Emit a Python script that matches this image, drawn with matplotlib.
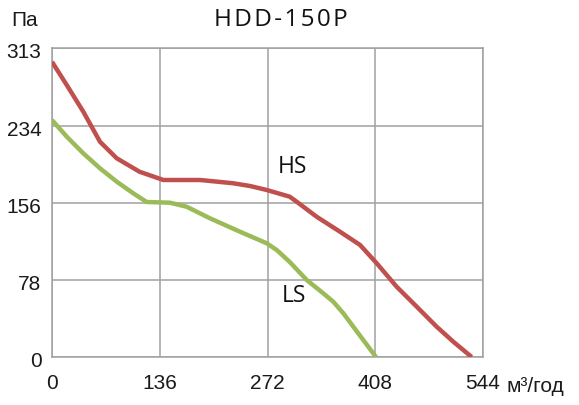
import matplotlib
matplotlib.use("Agg")
from matplotlib import pyplot as plt
from matplotlib import transforms

# Данные кривых (расход, м3/год -> давление, Па)
hs_flow = [0, 18.6, 39.5, 60.6, 81.7, 110.4, 140.5, 187, 228.5, 250, 270.9,
           300, 308.8, 334, 363.5, 388.8, 409.9, 435, 460.3, 485.5, 506.5, 529.7]
hs_pres = [299, 275.5, 248.5, 218, 201.3, 187.7, 179.3, 179.3, 176, 173.2, 169.2,
           162.4, 157.3, 142.1, 126.9, 113.5, 94.9, 71.2, 51, 30.7, 15.5, 0]

ls_flow = [0, 18.6, 39.5, 60.6, 81.7, 102.6, 119.5, 148.9, 170, 199.4, 237.3,
           271, 283.6, 300.4, 321.5, 342.4, 355, 367.7, 380.3, 392.9, 408.9]
ls_pres = [240, 223.2, 206.3, 191.1, 177.6, 165.8, 157, 156.3, 152.2, 140.5, 126.9,
           115.2, 108.4, 96, 78, 64.5, 56, 44.3, 30.7, 17.2, 0]

x_ticks = [0, 136, 272, 408, 544]
y_ticks = [0, 78, 156, 234, 313]

grid_color = '#A0A0A0'
tick_font = ['Liberation Sans', 'DejaVu Sans']
label_font = ['Open Sans', 'DejaVu Sans']
tick_size = 15

fig = plt.figure(figsize=(5.79, 4.05), dpi=100)
ax = fig.add_axes([52 / 579, 48 / 405, 431 / 579, 309 / 405])

ax.plot(hs_flow, hs_pres, color='#C0504D', lw=3.2, solid_joinstyle='round',
        solid_capstyle='butt', zorder=3)
ax.plot(ls_flow, ls_pres, color='#9BBB59', lw=3.2, solid_joinstyle='round',
        solid_capstyle='butt', zorder=3)

ax.set_xlim(0, 544)
ax.set_ylim(0, 313)
ax.set_xticks(x_ticks)
ax.set_yticks(y_ticks)
ax.set_xticklabels([str(v) for v in x_ticks], family=tick_font,
                   fontsize=tick_size, color='#1a1a1a')
ax.set_yticklabels([str(v) for v in y_ticks], family=tick_font,
                   fontsize=tick_size, color='#1a1a1a')
ax.tick_params(axis='both', length=0)
ax.tick_params(axis='x', pad=12.5)
ax.tick_params(axis='y', pad=7.5)
# подписи оси Y чуть ниже линий сетки
shift = transforms.ScaledTranslation(0, -1.8 / 72, fig.dpi_scale_trans)
for lab in ax.get_yticklabels():
    lab.set_transform(lab.get_transform() + shift)
ax.grid(True, color=grid_color, lw=1.1)
for s in ax.spines.values():
    s.set_color(grid_color)
    s.set_linewidth(1.1)

ax.text(304, 192, 'HS', family=label_font, fontsize=16.5, ha='center',
        va='center', color='#111111')
ax.text(306, 62, 'LS', family=label_font, fontsize=16.5, ha='center',
        va='center', color='#111111')

fig.text(281 / 579, 1 - 20 / 405, 'H D D - 1 5 0 P'.replace(' ', '\u200a'),
         family=label_font, fontsize=17.5, ha='center', va='center',
         color='#111111')
fig.text(25 / 579, 1 - 20 / 405, 'Па', family=tick_font, fontsize=tick_size,
         ha='center', va='center', color='#1a1a1a')
fig.text(507 / 579, 1 - 386 / 405, 'м³/год', family=tick_font,
         fontsize=tick_size, ha='left', va='center', color='#1a1a1a')

fig.savefig('out.png', dpi=100)
